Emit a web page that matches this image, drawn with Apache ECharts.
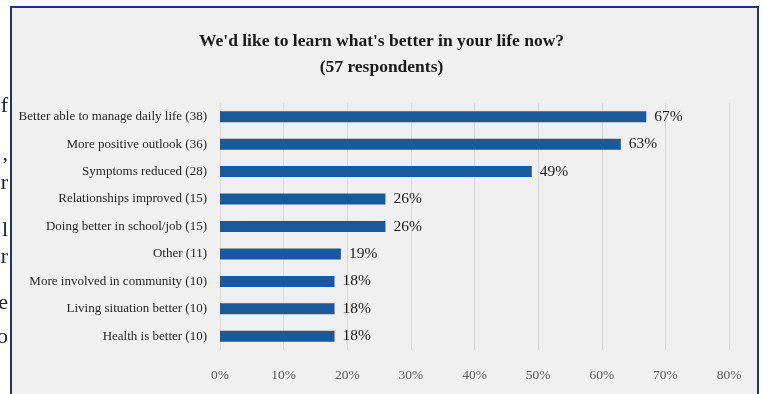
<!DOCTYPE html>
<html>
<head>
<meta charset="utf-8">
<script src="https://cdn.jsdelivr.net/npm/echarts@6/dist/echarts.min.js"></script>
<style>
  html, body { margin: 0; padding: 0; background: #ffffff; }
  #chart { width: 763px; height: 394px; }
</style>
</head>
<body>
<div id="chart"></div>
<script>
// Survey answers, listed top to bottom
const categories = [
  'Better able to manage daily life (38)',
  'More positive outlook (36)',
  'Symptoms reduced (28)',
  'Relationships improved (15)',
  'Doing better in school/job (15)',
  'Other (11)',
  'More involved in community (10)',
  'Living situation better (10)',
  'Health is better (10)'
];
// Share of the 57 respondents, in percent
const percentValues = [67, 63, 49, 26, 26, 19, 18, 18, 18];
const axisTicks = [0, 10, 20, 30, 40, 50, 60, 70, 80];

const serif = '"Liberation Serif", "DejaVu Serif", serif';
const chart = echarts.init(document.getElementById('chart'), null, { renderer: 'canvas' });

// bottom-to-top order for the category axis
const cats = categories.slice().reverse();
const vals = percentValues.slice().reverse();

// stray glyphs of the surrounding page text peeking out at the left edge
const edgeGlyphs = [
  { ch: 'f', y: 106 }, { ch: ',', y: 154 }, { ch: 'r', y: 183 },
  { ch: 'l', y: 230 }, { ch: 'r', y: 257 }, { ch: 'e', y: 303 }, { ch: 'o', y: 337 }
];

chart.setOption({
  backgroundColor: '#ffffff',
  animation: false,
  graphic: [
    {
      type: 'rect', z: -10, silent: true,
      shape: { x: 11, y: 7, width: 747, height: 400 },
      style: { fill: '#f0f0f0', stroke: '#1f3570', lineWidth: 2 }
    },
    ...edgeGlyphs.map(g => ({
      type: 'text', z: -11, silent: true,
      x: 8, y: g.y,
      style: {
        text: g.ch, font: '22px ' + serif, fill: '#222',
        align: 'right', verticalAlign: 'middle'
      }
    }))
  ],
  title: {
    text: "We'd like to learn what's better in your life now?\n(57 respondents)",
    left: 'center',
    top: 23,
    textStyle: {
      fontFamily: serif, fontWeight: 'bold', fontSize: 17.5,
      color: '#1a1a1a', lineHeight: 26
    }
  },
  grid: { left: 220, right: 34, top: 103, bottom: 44, containLabel: false },
  xAxis: {
    type: 'value', min: 0, max: 80, interval: 10,
    axisLine: { show: false }, axisTick: { show: false },
    splitLine: { show: true, lineStyle: { color: '#d9d9d9', width: 1 } },
    axisLabel: {
      margin: 18, formatter: v => v + '%',
      fontFamily: serif, fontSize: 13.5, color: '#595959',
      customValues: axisTicks
    }
  },
  yAxis: {
    type: 'category', data: cats,
    axisLine: { show: false }, axisTick: { show: false },
    axisLabel: { margin: 13, fontFamily: serif, fontSize: 13, color: '#262626' }
  },
  series: [{
    type: 'bar', data: vals, barWidth: 11,
    itemStyle: { color: '#185a9b' },
    label: {
      show: true, position: 'right', distance: 8,
      formatter: p => p.value + '%',
      fontFamily: serif, fontSize: 15.5, color: '#1a1a1a'
    }
  }]
});
</script>
</body>
</html>
